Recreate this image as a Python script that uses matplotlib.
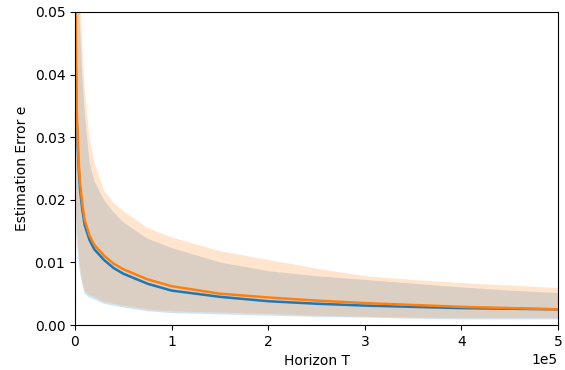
import numpy as np
import matplotlib
matplotlib.use("Agg")
import matplotlib.pyplot as plt

T = [0, 1000, 2000, 3500, 5000, 7500, 10000, 15000, 20000, 30000, 40000, 50000,
     75000, 100000, 150000, 200000, 250000, 300000, 350000, 400000, 450000, 500000]

blue_mean = [0.050, 0.040, 0.032, 0.026, 0.022, 0.0185, 0.0160, 0.0136, 0.0121, 0.0104, 0.0091,
             0.0082, 0.0066, 0.0055, 0.0045, 0.0038, 0.0034, 0.0031, 0.0029, 0.0027, 0.0026, 0.0025]
blue_upper = [0.090, 0.080, 0.070, 0.058, 0.048, 0.040, 0.034, 0.026, 0.023, 0.020, 0.0180,
              0.0164, 0.0138, 0.0123, 0.0100, 0.0086, 0.0078, 0.0072, 0.0066, 0.0060, 0.0055, 0.0051]
blue_lower = [0.028, 0.018, 0.013, 0.0105, 0.0085, 0.0065, 0.0050, 0.0044, 0.0041, 0.0034, 0.0031,
              0.0028, 0.0022, 0.0019, 0.0017, 0.0015, 0.0013, 0.0012, 0.0010, 0.0009, 0.0009, 0.0009]

orange_mean = [0.060, 0.045, 0.033, 0.027, 0.023, 0.0195, 0.0168, 0.0143, 0.0128, 0.0111, 0.0098,
               0.0089, 0.0073, 0.0062, 0.0050, 0.0044, 0.0039, 0.0035, 0.0032, 0.0029, 0.0027, 0.0025]
orange_upper = [0.100, 0.090, 0.080, 0.065, 0.055, 0.045, 0.038, 0.030, 0.026, 0.0215, 0.0195,
                0.0182, 0.0155, 0.0140, 0.0118, 0.0104, 0.0090, 0.0078, 0.0072, 0.0067, 0.0063, 0.0059]
orange_lower = [0.030, 0.020, 0.015, 0.012, 0.0095, 0.0070, 0.0055, 0.0048, 0.0045, 0.0037, 0.0034,
                0.0031, 0.0025, 0.0022, 0.0020, 0.0018, 0.0015, 0.0013, 0.0012, 0.0011, 0.0011, 0.0011]

fig = plt.figure(figsize=(5.65, 3.7), dpi=100)
ax = fig.add_axes([0.1327, 0.1216, 0.855, 0.846])

ax.fill_between(T, blue_lower, blue_upper, color="#1f77b4", alpha=0.2, linewidth=0)
ax.fill_between(T, orange_lower, orange_upper, color="#ff7f0e", alpha=0.2, linewidth=0)
ax.plot(T, blue_mean, color="#1f77b4", linewidth=1.8)
ax.plot(T, orange_mean, color="#ff7f0e", linewidth=1.8)

ax.set_xlim(0, 500000)
ax.set_ylim(0, 0.05)
ax.set_yticks([0.0, 0.01, 0.02, 0.03, 0.04, 0.05])
ax.set_yticklabels(["0.00", "0.01", "0.02", "0.03", "0.04", "0.05"])
ax.ticklabel_format(axis="x", style="sci", scilimits=(0, 0))
ax.set_xlabel("Horizon T")
ax.set_ylabel("Estimation Error e")

fig.savefig("out.png", dpi=100)
